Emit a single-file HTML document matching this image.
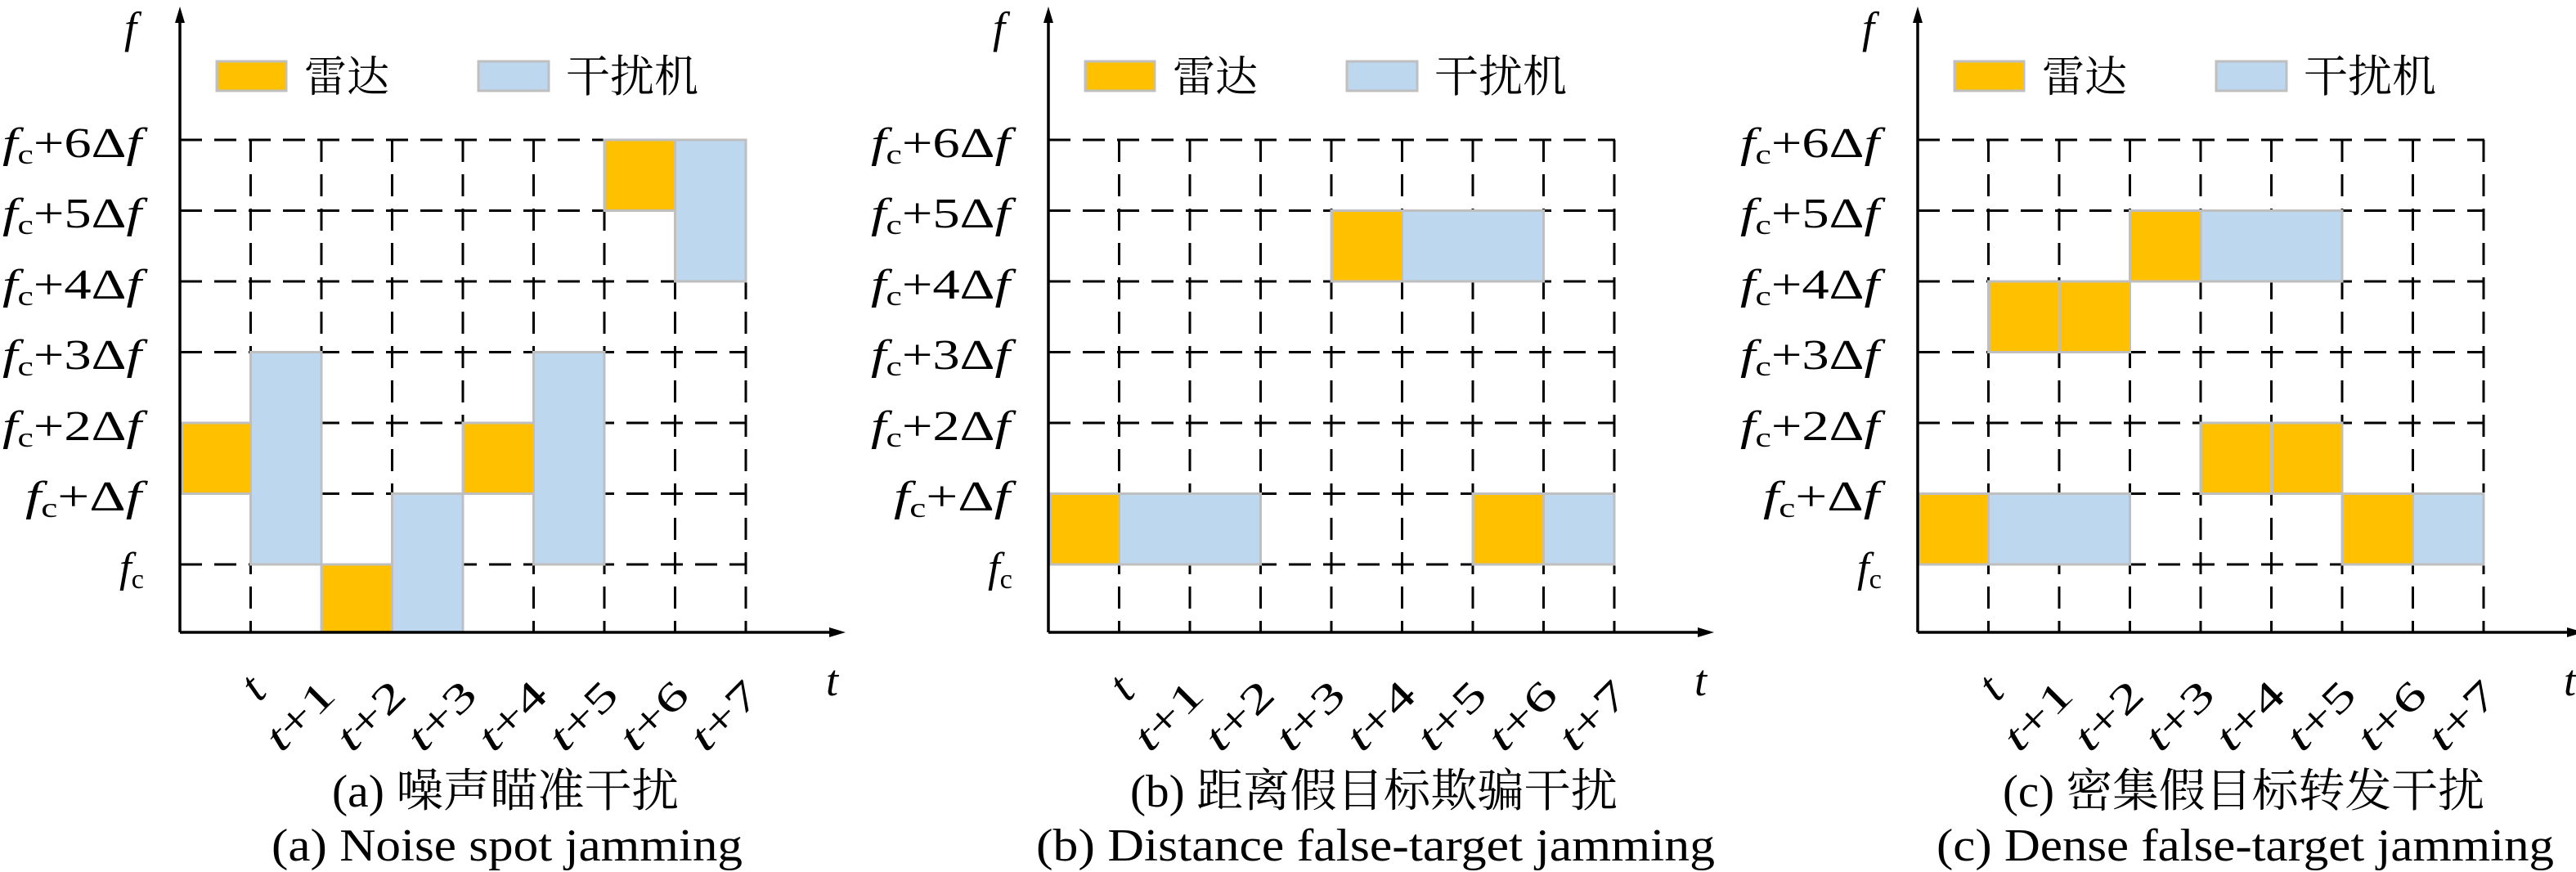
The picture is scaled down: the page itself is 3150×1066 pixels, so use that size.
<!DOCTYPE html>
<html><head><meta charset="utf-8"><style>
html,body{margin:0;padding:0;background:#fff;}
svg{display:block;}
text{font-family:"Liberation Serif","Noto Serif CJK SC",serif;fill:#000;}
.cjk{font-family:"Liberation Serif","Noto Serif CJK SC",serif;}
</style></head><body>
<svg width="3150" height="1066" viewBox="0 0 3150 1066" xmlns="http://www.w3.org/2000/svg">
<defs>
<g id="frame">
  <g stroke="#000" stroke-width="3" stroke-dasharray="27,15" fill="none">
    <line x1="220" y1="690" x2="913" y2="690"/>
    <line x1="220" y1="603.5" x2="913" y2="603.5"/>
    <line x1="220" y1="517" x2="913" y2="517"/>
    <line x1="220" y1="430.5" x2="913" y2="430.5"/>
    <line x1="220" y1="344" x2="913" y2="344"/>
    <line x1="220" y1="257.5" x2="913" y2="257.5"/>
    <line x1="220" y1="171" x2="913" y2="171"/>
    <line x1="306.5" y1="171" x2="306.5" y2="773"/>
    <line x1="393" y1="171" x2="393" y2="773"/>
    <line x1="479.5" y1="171" x2="479.5" y2="773"/>
    <line x1="566" y1="171" x2="566" y2="773"/>
    <line x1="652.5" y1="171" x2="652.5" y2="773"/>
    <line x1="739" y1="171" x2="739" y2="773"/>
    <line x1="825.5" y1="171" x2="825.5" y2="773"/>
    <line x1="912" y1="171" x2="912" y2="773"/>
  </g>
  <g font-size="52">
    <text x="3" y="192" textLength="170" lengthAdjust="spacingAndGlyphs"><tspan font-style="italic">f</tspan><tspan font-size="34" dy="8">c</tspan><tspan dy="-8">+6Δ</tspan><tspan font-style="italic">f</tspan></text>
    <text x="3" y="278" textLength="170" lengthAdjust="spacingAndGlyphs"><tspan font-style="italic">f</tspan><tspan font-size="34" dy="8">c</tspan><tspan dy="-8">+5Δ</tspan><tspan font-style="italic">f</tspan></text>
    <text x="3" y="365" textLength="170" lengthAdjust="spacingAndGlyphs"><tspan font-style="italic">f</tspan><tspan font-size="34" dy="8">c</tspan><tspan dy="-8">+4Δ</tspan><tspan font-style="italic">f</tspan></text>
    <text x="3" y="451" textLength="170" lengthAdjust="spacingAndGlyphs"><tspan font-style="italic">f</tspan><tspan font-size="34" dy="8">c</tspan><tspan dy="-8">+3Δ</tspan><tspan font-style="italic">f</tspan></text>
    <text x="3" y="538" textLength="170" lengthAdjust="spacingAndGlyphs"><tspan font-style="italic">f</tspan><tspan font-size="34" dy="8">c</tspan><tspan dy="-8">+2Δ</tspan><tspan font-style="italic">f</tspan></text>
    <text x="31" y="624" textLength="142" lengthAdjust="spacingAndGlyphs"><tspan font-style="italic">f</tspan><tspan font-size="34" dy="8">c</tspan><tspan dy="-8">+Δ</tspan><tspan font-style="italic">f</tspan></text>
    <text x="146" y="711" textLength="30" lengthAdjust="spacingAndGlyphs"><tspan font-style="italic">f</tspan><tspan font-size="34" dy="8">c</tspan></text>
  </g>
  <g font-size="50" text-anchor="end">
    <text transform="translate(328,848) rotate(-45)" font-size="58"><tspan font-style="italic">t</tspan></text>
    <text transform="translate(413,852) rotate(-45)" textLength="98" lengthAdjust="spacingAndGlyphs"><tspan font-style="italic">t</tspan>+1</text>
    <text transform="translate(499.5,852) rotate(-45)" textLength="98" lengthAdjust="spacingAndGlyphs"><tspan font-style="italic">t</tspan>+2</text>
    <text transform="translate(586,852) rotate(-45)" textLength="98" lengthAdjust="spacingAndGlyphs"><tspan font-style="italic">t</tspan>+3</text>
    <text transform="translate(672.5,852) rotate(-45)" textLength="98" lengthAdjust="spacingAndGlyphs"><tspan font-style="italic">t</tspan>+4</text>
    <text transform="translate(759,852) rotate(-45)" textLength="98" lengthAdjust="spacingAndGlyphs"><tspan font-style="italic">t</tspan>+5</text>
    <text transform="translate(845.5,852) rotate(-45)" textLength="98" lengthAdjust="spacingAndGlyphs"><tspan font-style="italic">t</tspan>+6</text>
    <text transform="translate(932,852) rotate(-45)" textLength="98" lengthAdjust="spacingAndGlyphs"><tspan font-style="italic">t</tspan>+7</text>
  </g>
  <text x="152" y="52" font-size="54" font-style="italic">f</text>
  <text x="1010" y="850" font-size="54" font-style="italic">t</text>
  <rect x="265" y="75" width="85" height="36" fill="#FFC000" stroke="#BFBFBF" stroke-width="3"/>
  <text x="372" y="112" font-size="52" class="cjk">雷达</text>
  <rect x="585" y="75" width="86" height="36" fill="#BDD7EE" stroke="#BFBFBF" stroke-width="3"/>
  <text x="692" y="112" font-size="54" class="cjk">干扰机</text>
</g>
<g id="axes">
  <g stroke="#000" stroke-width="3.5" fill="none">
    <line x1="220" y1="773" x2="1020" y2="773"/>
    <line x1="220" y1="773" x2="220" y2="22"/>
  </g>
  <polygon points="220,8 214,28 226,28" fill="#000"/>
  <polygon points="1034,773 1014,767 1014,779" fill="#000"/>
</g>
</defs>

<g>
  <use href="#frame"/>
  <g stroke="#BFBFBF" stroke-width="3">
    <rect x="221.5" y="517" width="85" height="86.5" fill="#FFC000"/>
    <rect x="306.5" y="430.5" width="86.5" height="259.5" fill="#BDD7EE"/>
    <rect x="393" y="690" width="86.5" height="83" fill="#FFC000"/>
    <rect x="479.5" y="603.5" width="86.5" height="169.5" fill="#BDD7EE"/>
    <rect x="566" y="517" width="86.5" height="86.5" fill="#FFC000"/>
    <rect x="652.5" y="430.5" width="86.5" height="259.5" fill="#BDD7EE"/>
    <rect x="739" y="171" width="86.5" height="86.5" fill="#FFC000"/>
    <rect x="825.5" y="171" width="86.5" height="173" fill="#BDD7EE"/>
  </g>
  <use href="#axes"/>
  <text x="406" y="986" font-size="56" textLength="424" lengthAdjust="spacingAndGlyphs">(a) 噪声瞄准干扰</text>
  <text x="332" y="1052" font-size="56" textLength="576" lengthAdjust="spacingAndGlyphs">(a) Noise spot jamming</text>
</g>

<g transform="translate(1062,0)">
  <use href="#frame"/>
  <g stroke="#BFBFBF" stroke-width="3">
    <rect x="306.5" y="603.5" width="173" height="86.5" fill="#BDD7EE"/>
    <rect x="221.5" y="603.5" width="85" height="86.5" fill="#FFC000"/>
    <rect x="566" y="257.5" width="86.5" height="86.5" fill="#FFC000"/>
    <rect x="652.5" y="257.5" width="173" height="86.5" fill="#BDD7EE"/>
    <rect x="739" y="603.5" width="86.5" height="86.5" fill="#FFC000"/>
    <rect x="825.5" y="603.5" width="86.5" height="86.5" fill="#BDD7EE"/>
  </g>
  <use href="#axes"/>
  <text x="320" y="986" font-size="56" textLength="596" lengthAdjust="spacingAndGlyphs">(b) 距离假目标欺骗干扰</text>
  <text x="205" y="1052" font-size="56" textLength="830" lengthAdjust="spacingAndGlyphs">(b) Distance false-target jamming</text>
</g>

<g transform="translate(2125,0)">
  <use href="#frame"/>
  <g stroke="#BFBFBF" stroke-width="3">
    <rect x="306.5" y="603.5" width="173" height="86.5" fill="#BDD7EE"/>
    <rect x="221.5" y="603.5" width="85" height="86.5" fill="#FFC000"/>
    <rect x="306.5" y="344" width="86.5" height="86.5" fill="#FFC000"/>
    <rect x="393" y="344" width="86.5" height="86.5" fill="#FFC000"/>
    <rect x="479.5" y="257.5" width="86.5" height="86.5" fill="#FFC000"/>
    <rect x="566" y="257.5" width="173" height="86.5" fill="#BDD7EE"/>
    <rect x="566" y="517" width="86.5" height="86.5" fill="#FFC000"/>
    <rect x="652.5" y="517" width="86.5" height="86.5" fill="#FFC000"/>
    <rect x="739" y="603.5" width="86.5" height="86.5" fill="#FFC000"/>
    <rect x="825.5" y="603.5" width="86.5" height="86.5" fill="#BDD7EE"/>
  </g>
  <use href="#axes"/>
  <text x="324" y="986" font-size="56" textLength="589" lengthAdjust="spacingAndGlyphs">(c) 密集假目标转发干扰</text>
  <text x="243" y="1052" font-size="56" textLength="755" lengthAdjust="spacingAndGlyphs">(c) Dense false-target jamming</text>
</g>
</svg>
</body></html>
